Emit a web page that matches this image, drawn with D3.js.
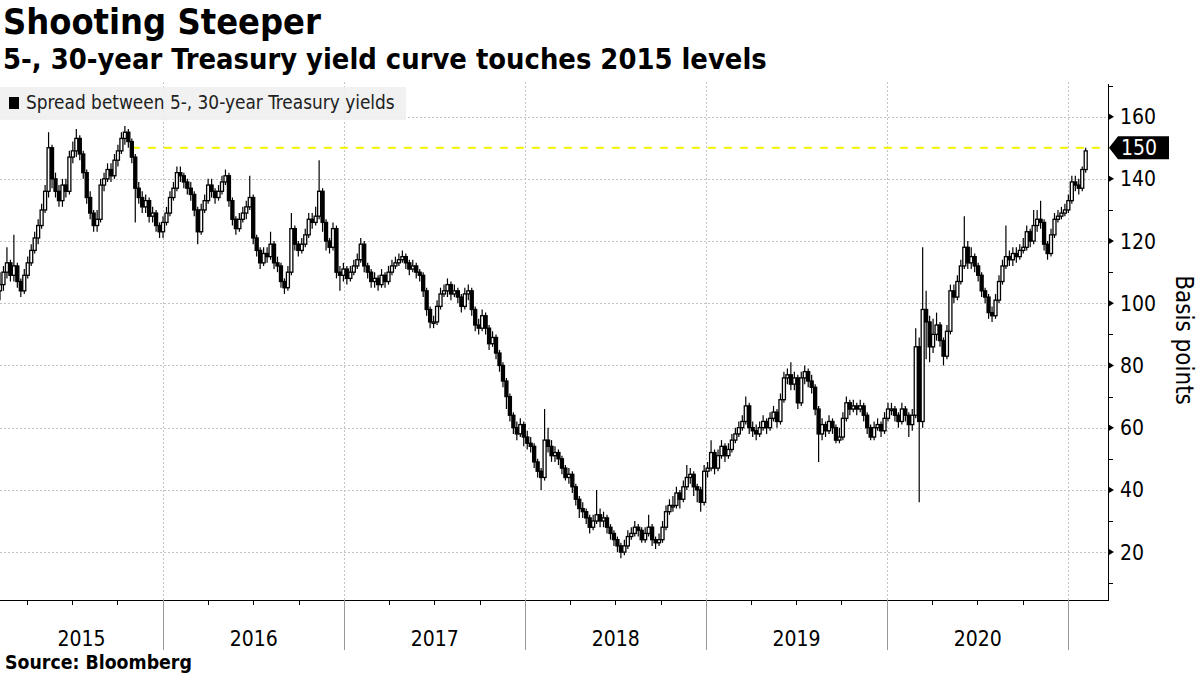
<!DOCTYPE html>
<html><head><meta charset="utf-8">
<script src="https://cdn.jsdelivr.net/npm/d3@7"></script>
<style>
body{margin:0;background:#fff;}
svg{display:block;}
</style></head>
<body>
<svg id="c" width="1200" height="675"></svg>
<script>
// ---------------- DATA ----------------
const title = "Shooting Steeper";
const subtitle = "5-, 30-year Treasury yield curve touches 2015 levels";
const seriesName = "Spread between 5-, 30-year Treasury yields";
const sourceText = "Source: Bloomberg";
const yLabel = "Basis points";

// weekly candles, one per week, first week ending on this Friday
const firstWeek = "2015-02-06";
const firstOpen = 104;

const close = [
 106,110,113,109,112,107,104,109,113,117,121,125,130,136,150,140,136,133,138,136,147,149,153,148,142,134,129,125,127,138,140,143,141,146,149,153,155,152,147,137,134,131,133,128,129,125,123,
 126,129,134,137,142,141,139,137,135,130,123,130,133,138,136,134,136,139,141,133,127,124,127,129,131,134,121,117,113,116,115,119,113,112,107,105,110,124,119,117,119,122,127,126,128,136,126,120,118,124,110,109,111,
 108,110,112,114,119,112,110,107,108,106,109,107,110,112,113,114,115,113,111,112,110,109,104,98,94,94,99,103,104,106,103,104,102,99,103,104,98,93,92,96,92,87,89,84,80,75,70,64,60,58,61,57,
 55,54,49,46,44,56,54,51,52,50,47,44,45,41,37,34,33,31,28,30,32,30,31,28,26,24,22,20,22,25,26,28,27,24,26,28,24,23,24,28,33,35,35,39,37,41,44,45,41,40,36,46,
 47,52,47,51,54,51,53,56,58,60,62,67,60,59,58,60,62,60,63,65,62,69,76,77,74,76,68,76,78,75,73,66,58,61,59,62,60,56,57,63,68,66,67,66,67,64,60,57,60,61,59,63,
 66,66,64,62,66,64,61,64,86,62,98,94,86,90,93,88,83,91,104,102,107,112,118,113,115,112,109,104,102,97,96,101,107,112,115,114,116,115,117,118,123,120,125,127,126,119,116,122,127,128,129,130,133,139,138,137,143,149
];
const high = [
 110,112,118,114,122,113,108,111,115,119,123,127,132,138,155,151,142,138,140,140,149,152,156,154,149,143,136,130,130,140,142,145,145,148,151,155,157,156,153,148,139,136,135,134,131,130,126,
 128,131,136,139,144,144,142,140,139,136,131,132,135,140,140,137,138,141,143,142,134,128,129,131,133,141,135,122,118,118,118,123,120,115,113,108,112,129,125,120,121,124,129,129,131,146,137,127,121,126,125,112,113,
 112,112,114,116,121,120,113,111,110,109,111,110,112,114,115,116,117,116,114,114,113,111,110,105,99,96,101,105,106,108,107,106,105,103,105,106,105,99,95,98,97,93,91,90,85,81,76,71,65,62,63,62,
 59,57,55,50,47,66,60,56,54,53,51,48,47,46,42,38,36,34,32,32,40,34,33,32,29,27,25,23,24,27,28,30,29,28,28,32,29,25,26,30,35,37,38,41,40,43,48,47,46,42,41,48,
 49,56,53,53,56,55,55,58,60,62,64,70,68,62,61,62,64,63,65,67,66,71,78,79,81,78,77,78,80,79,77,74,67,63,62,64,63,61,60,65,70,69,69,68,69,68,65,61,62,63,62,65,
 68,68,67,65,68,67,65,66,92,89,118,104,96,95,97,94,89,93,106,106,109,114,128,120,118,116,113,110,105,103,99,103,109,114,125,117,118,118,119,121,125,124,130,130,133,127,120,124,129,130,131,132,135,141,141,140,144,150
];
const low = [
 101,104,108,107,107,105,102,103,108,112,116,119,124,129,134,137,134,131,131,134,135,145,147,146,140,132,127,123,123,126,136,139,139,140,144,148,151,150,145,126,132,129,129,126,126,123,121,
 121,125,128,133,136,139,137,135,133,128,119,122,129,132,134,132,133,135,138,131,125,122,123,126,127,130,119,115,111,112,113,114,111,110,105,103,104,109,117,115,116,118,121,124,125,127,123,117,116,117,108,104,107,
 106,107,109,111,113,110,108,105,105,104,105,105,106,109,111,112,113,111,109,110,108,107,102,96,92,92,93,98,102,102,101,102,100,97,98,101,96,91,90,91,90,85,86,82,78,73,66,62,58,56,57,54,
 53,52,47,44,40,43,52,49,49,48,45,43,42,39,35,31,31,29,26,27,29,28,28,26,24,22,20,18,19,21,24,25,25,23,23,25,22,21,22,23,27,32,33,34,34,36,40,42,38,36,33,35,
 44,46,45,46,50,49,50,52,55,57,59,61,58,57,56,57,59,58,59,62,60,61,68,74,72,72,66,67,74,73,71,64,49,56,57,58,58,55,55,56,62,64,65,64,65,62,58,56,56,59,57,58,
 62,64,62,60,61,62,57,59,63,36,60,82,81,84,88,86,80,82,90,100,101,106,111,111,111,110,107,102,100,95,94,95,100,106,111,112,112,113,114,116,117,118,119,123,124,117,114,115,121,126,127,128,129,132,136,135,136,142
];

const yTicks = [20, 40, 60, 80, 100, 120, 140, 160];
const yMinorTicks = [10, 30, 50, 70, 90, 110, 130, 150, 170];
const years = ["2015", "2016", "2017", "2018", "2019", "2020", "2021"];
const refLevel = 150;
const refStart = "2015-10-30";
const lastLabel = "150";
const xDomain = ["2015-02-06", "2021-03-22"];
const yDomain = [4.6, 170.5];

// ---------------- LAYOUT ----------------
const P = {left: 0, right: 1108, top: 84, bottom: 600};
const FONT = "'DejaVu Sans Condensed', 'DejaVu Sans', sans-serif";

const svg = d3.select("#c");
const parse = d3.utcParse("%Y-%m-%d");
const x = d3.scaleUtc().domain(xDomain.map(parse)).range([P.left, P.right]);
const y = d3.scaleLinear().domain(yDomain).range([P.bottom, P.top]);

const t0 = parse(firstWeek);
const candles = close.map((c, i) => ({
  date: d3.utcDay.offset(t0, 7 * i),
  open: i === 0 ? firstOpen : close[i - 1],
  close: c, high: high[i], low: low[i]
}));

function fit(sel, w) {
  const n = sel.node();
  const cur = n.getComputedTextLength();
  const fs = parseFloat(sel.attr("font-size"));
  sel.attr("font-size", (fs * w / cur).toFixed(2));
  return sel;
}

// titles
fit(svg.append("text").attr("x", 3).attr("y", 34).attr("font-family", FONT)
  .attr("font-weight", "bold").attr("font-size", 34).attr("fill", "#000").text(title), 318);
fit(svg.append("text").attr("x", 3).attr("y", 69).attr("font-family", FONT)
  .attr("font-weight", "bold").attr("font-size", 24).attr("fill", "#000").text(subtitle), 764);

// gridlines
const grid = svg.append("g").attr("stroke", "#c4c4c4").attr("stroke-width", 1)
  .attr("stroke-dasharray", "2,2");
grid.selectAll("line.h").data(yTicks).join("line")
  .attr("x1", P.left).attr("x2", P.right)
  .attr("y1", d => Math.round(y(d)) + 0.5).attr("y2", d => Math.round(y(d)) + 0.5);
const yearDates = years.map(yy => parse(yy + "-01-01"));
const inner = yearDates.filter(d => x(d) > P.left && x(d) < P.right);
grid.selectAll("line.v").data(inner).join("line")
  .attr("x1", d => Math.round(x(d)) + 0.5).attr("x2", d => Math.round(x(d)) + 0.5)
  .attr("y1", P.top - 2).attr("y2", P.bottom);

// legend
svg.append("rect").attr("x", 0).attr("y", 87).attr("width", 406).attr("height", 33)
  .attr("fill", "#efefef").attr("fill-opacity", 0.9);
svg.append("rect").attr("x", 9).attr("y", 97).attr("width", 10).attr("height", 12).attr("fill", "#000");
fit(svg.append("text").attr("x", 26).attr("y", 109).attr("font-family", FONT)
  .attr("font-size", 16).attr("fill", "#222").text(seriesName), 369);

// reference line
svg.append("line")
  .attr("x1", x(parse(refStart))).attr("x2", P.right)
  .attr("y1", y(refLevel)).attr("y2", y(refLevel))
  .attr("stroke", "#f2f200").attr("stroke-width", 2.2).attr("stroke-dasharray", "8,8");

// candles
svg.append("clipPath").attr("id", "clip").append("rect")
  .attr("x", P.left).attr("y", P.top).attr("width", P.right - P.left).attr("height", P.bottom - P.top);
const cg = svg.append("g").attr("clip-path", "url(#clip)");
const bw = 3.0;
cg.selectAll("line.wick").data(candles).join("line")
  .attr("x1", d => x(d.date)).attr("x2", d => x(d.date))
  .attr("y1", d => y(d.high)).attr("y2", d => y(d.low))
  .attr("stroke", "#000").attr("stroke-width", 1.2);
cg.selectAll("rect.body").data(candles).join("rect")
  .attr("x", d => x(d.date) - bw / 2).attr("width", bw)
  .attr("y", d => y(Math.max(d.open, d.close)))
  .attr("height", d => Math.max(1.5, Math.abs(y(d.open) - y(d.close))))
  .attr("fill", d => d.close >= d.open ? "#fff" : "#000")
  .attr("stroke", "#000").attr("stroke-width", 1.3);

// axes lines
svg.append("line").attr("x1", P.left).attr("x2", P.right + 0.5).attr("y1", P.bottom + 0.5).attr("y2", P.bottom + 0.5)
  .attr("stroke", "#000").attr("stroke-width", 1);
svg.append("line").attr("x1", P.right + 0.5).attr("x2", P.right + 0.5).attr("y1", P.top).attr("y2", P.bottom + 1)
  .attr("stroke", "#000").attr("stroke-width", 1);

// right axis ticks
svg.selectAll("path.maj").data(yTicks).join("path")
  .attr("d", d => { const yy = y(d); return `M${P.right + 1},${yy - 3}L${P.right + 6},${yy}L${P.right + 1},${yy + 3}Z`; })
  .attr("fill", "#000");
svg.selectAll("line.min").data(yMinorTicks.filter(v => v !== refLevel)).join("line")
  .attr("x1", P.right).attr("x2", P.right + 5)
  .attr("y1", d => Math.round(y(d)) + 0.5).attr("y2", d => Math.round(y(d)) + 0.5)
  .attr("stroke", "#000").attr("stroke-width", 1);
svg.selectAll("text.yt").data(yTicks).join("text")
  .attr("x", P.right + 12).attr("y", d => y(d)).attr("dy", "0.36em")
  .attr("font-family", FONT).attr("font-size", 21).attr("fill", "#000")
  .text(d => d);

// last value flag
const fy = y(refLevel);
svg.append("path")
  .attr("d", `M${P.right + 1},${fy}L${P.right + 10},${fy - 11.5}L${P.right + 61},${fy - 11.5}L${P.right + 61},${fy + 11.5}L${P.right + 10},${fy + 11.5}Z`)
  .attr("fill", "#000");
svg.append("text").attr("x", P.right + 13).attr("y", fy).attr("dy", "0.36em")
  .attr("font-family", FONT).attr("font-size", 21).attr("fill", "#fff").text(lastLabel);

// y label
svg.append("text").attr("transform", `translate(1176,340) rotate(90)`)
  .attr("text-anchor", "middle").attr("font-family", FONT).attr("font-size", 24)
  .attr("fill", "#000").text(yLabel);

// bottom axis: quarter ticks, year separators, year labels
const quarters = d3.utcMonth.every(3).range(x.domain()[0], x.domain()[1])
  .filter(d => d.getUTCMonth() !== 0);
svg.selectAll("line.q").data(quarters).join("line")
  .attr("x1", d => Math.round(x(d)) + 0.5).attr("x2", d => Math.round(x(d)) + 0.5)
  .attr("y1", P.bottom).attr("y2", P.bottom + 5)
  .attr("stroke", "#000").attr("stroke-width", 1);
svg.selectAll("line.ys").data(inner).join("line")
  .attr("x1", d => Math.round(x(d)) + 0.5).attr("x2", d => Math.round(x(d)) + 0.5)
  .attr("y1", P.bottom).attr("y2", P.bottom + 50)
  .attr("stroke", "#999").attr("stroke-width", 1);
const yl = years.map((yy, i) => {
  const s = Math.max(P.left, x(yearDates[i]));
  const e = Math.min(P.right, x(parse((+yy + 1) + "-01-01")));
  return {label: yy, cx: (s + e) / 2, span: e - s};
}).filter(d => d.span > 100);
svg.selectAll("text.yr").data(yl).join("text")
  .attr("x", d => d.cx).attr("y", 646).attr("text-anchor", "middle")
  .attr("font-family", FONT).attr("font-size", 21).attr("fill", "#000")
  .text(d => d.label);

// source
fit(svg.append("text").attr("x", 5).attr("y", 669).attr("font-family", FONT)
  .attr("font-weight", "bold").attr("font-size", 17).attr("fill", "#000").text(sourceText), 187);
</script>
</body></html>
